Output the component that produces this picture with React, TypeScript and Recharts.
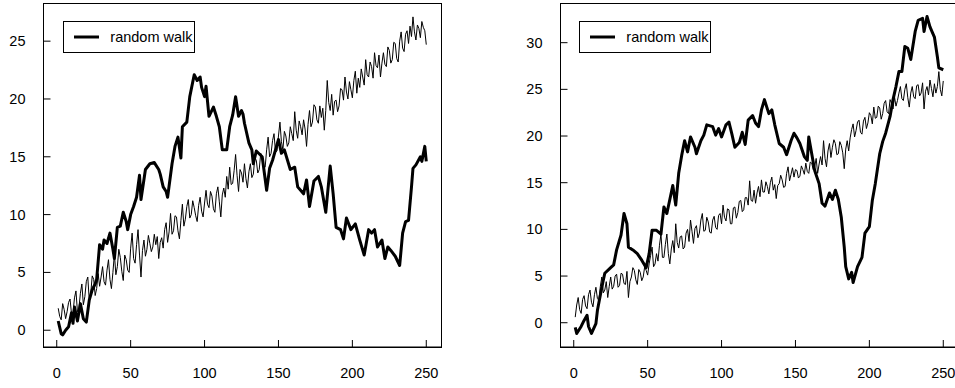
import { LineChart, Line, XAxis, YAxis, Legend } from 'recharts';

// the noisy trend lines have one value per step
const trendT = Array.from({ length: 250 }, (_, i) => i + 1);

// left panel
const trendLeft = [
    1.9, 1.2, 0.9, 2.3, 1.8, 1.0, 1.6, 2.4, 2.7, 1.4,
    1.5, 2.8, 3.4, 1.6, 1.9, 3.2, 4.0, 2.2, 2.9, 4.2,
    4.6, 2.6, 3.2, 4.7, 4.4, 3.0, 3.6, 4.9, 3.8, 4.6,
    5.5, 4.2, 3.9, 5.2, 6.1, 4.4, 3.6, 5.0, 6.6, 4.8,
    5.5, 7.0, 6.3, 5.1, 4.3, 6.5, 6.1, 5.2, 5.0, 7.1,
    8.4, 6.2, 5.8, 7.4, 8.7, 6.5, 4.6, 6.9, 7.8, 6.4,
    7.0, 8.2, 7.5, 6.8, 7.2, 8.3, 7.4, 8.1, 6.2, 7.6,
    8.0, 7.1, 8.7, 9.3, 7.6, 8.5, 10.1, 8.3, 8.6, 9.9,
    9.8, 8.6, 7.9, 9.5, 10.9, 9.0, 9.6, 10.7, 11.3, 9.7,
    10.0, 11.2, 10.6, 9.9, 9.4, 10.8, 11.5, 10.3, 9.8, 11.0,
    12.1, 10.9, 10.6, 12.0, 11.6, 10.5, 10.2, 11.8, 12.4, 11.1,
    9.8, 11.7, 12.3, 11.5, 13.3, 12.2, 14.1, 12.6, 12.7, 13.8,
    15.2, 13.4, 12.0, 13.9, 13.6, 12.8, 14.4, 13.1, 12.3, 13.7,
    14.4, 13.2, 13.5, 14.9, 14.7, 13.6, 13.9, 15.3, 15.0, 14.0,
    14.1, 15.6, 16.7, 15.0, 15.3, 16.4, 17.0, 15.4, 15.5, 16.8,
    18.0, 16.3, 15.6, 17.2, 16.8, 15.9, 16.2, 17.6, 17.0, 16.4,
    18.9, 17.3, 16.6, 18.1, 17.6, 16.9, 18.2, 17.4, 15.9, 17.8,
    19.0, 17.6, 18.0, 19.5, 19.3, 18.2, 17.9, 19.4, 18.4, 19.2,
    17.3, 19.0, 21.6, 19.7, 19.0, 20.4, 18.6, 19.8, 19.9, 18.9,
    19.4, 20.9, 20.8, 19.9, 21.9, 20.6, 20.0, 21.5, 20.8, 20.1,
    21.6, 22.4, 20.5, 21.8, 21.0, 22.6, 21.9, 21.2, 23.4, 22.1,
    21.9, 23.2, 22.8, 21.8, 24.0, 22.9, 22.7, 23.8, 21.9, 23.1,
    24.0, 23.0, 22.8, 24.5, 24.2, 23.1, 23.4, 24.9, 24.8, 23.5,
    23.2, 25.0, 25.8, 24.4, 24.1, 25.6, 25.9, 24.8, 26.3, 25.4,
    27.1, 25.8, 25.1, 26.4, 26.1, 25.3, 26.7, 26.2, 25.9, 24.7,
];

const walkLeftT = [
    1, 3, 4, 6, 8, 10, 11, 12, 14, 16, 18, 20, 22, 24, 26, 27, 29, 31, 32, 34,
    36, 38, 39, 41, 43, 45, 47, 48, 50, 52, 54, 56, 57, 60, 63, 66, 69, 70, 72, 74,
    75, 78, 80, 82, 84, 85, 88, 90, 93, 95, 97, 98, 100, 101, 103, 106, 108, 110, 112, 115,
    117, 119, 121, 123, 125, 126, 127, 130, 132, 133, 135, 139, 142, 144, 146, 150, 152, 154, 158, 161,
    163, 167, 169, 171, 174, 177, 179, 182, 185, 187, 189, 192, 194, 196, 199, 202, 205, 208, 211, 213,
    215, 217, 220, 222, 224, 226, 229, 232, 234, 236, 238, 240, 241, 243, 246, 247, 249, 250,
];
const walkLeft = [
    0.8, -0.3, -0.4, 0.0, 0.3, 1.5, 0.6, 2.0, 0.8, 2.3, 1.0, 0.7, 2.6, 3.5, 4.0, 4.4, 7.4, 7.0, 7.8, 7.5,
    8.4, 7.0, 6.2, 8.9, 9.0, 10.2, 9.4, 8.7, 10.0, 10.7, 11.5, 13.4, 11.3, 13.9, 14.4, 14.5, 13.9, 13.5, 12.4, 12.0,
    11.5, 14.4, 15.9, 16.7, 14.9, 17.6, 18.0, 20.2, 22.1, 21.6, 21.9, 21.0, 20.2, 21.1, 18.5, 19.3, 18.5, 17.6, 15.6, 15.6,
    17.6, 18.6, 20.2, 18.5, 19.0, 18.7, 17.9, 16.2, 15.6, 14.4, 15.5, 15.0, 12.1, 14.0, 14.7, 16.5, 15.3, 15.6, 13.9, 14.1,
    12.4, 11.8, 13.0, 10.7, 12.9, 13.3, 12.4, 10.2, 14.2, 11.8, 8.9, 8.7, 7.9, 9.7, 8.7, 9.2, 7.8, 6.5, 8.7, 8.4,
    8.7, 7.2, 7.8, 6.2, 7.2, 6.9, 6.4, 5.6, 8.4, 9.4, 9.5, 12.4, 14.0, 14.3, 15.0, 14.6, 15.9, 14.6,
];

// right panel
const trendRight = [
    0.6, 1.9, 2.7, 1.4, 1.0, 2.5, 2.9, 1.8, 1.5, 3.0,
    3.5, 2.2, 1.7, 3.0, 3.8, 2.6, 2.4, 3.9, 4.9, 3.2,
    3.5, 4.4, 2.7, 3.9, 4.9, 3.6, 3.9, 5.0, 5.2, 3.8,
    4.0, 5.3, 5.2, 4.2, 4.1, 5.5, 2.7, 4.4, 4.9, 5.9,
    5.6, 4.6, 4.1, 5.7, 5.4, 4.5, 4.9, 6.0, 5.6, 5.1,
    6.3, 7.2, 8.1, 6.0, 6.3, 7.4, 6.6, 8.3, 9.5, 7.0,
    7.0, 8.4, 9.5, 7.4, 6.3, 7.9, 8.8, 7.5, 10.6, 8.6,
    8.0, 9.2, 9.3, 7.9, 8.1, 9.6, 10.0, 8.7, 11.0, 9.8,
    8.5, 10.1, 10.4, 9.1, 9.6, 11.0, 11.7, 9.8, 9.9, 11.3,
    10.8, 9.7, 9.6, 11.0, 11.4, 10.2, 10.0, 11.5, 11.7, 10.6,
    12.6, 11.3, 10.9, 12.2, 12.1, 10.6, 10.6, 12.3, 12.4, 11.2,
    11.8, 13.0, 13.1, 11.9, 12.1, 13.4, 13.4, 12.6, 15.2, 13.1,
    13.0, 14.2, 12.8, 13.9, 14.6, 13.5, 15.3, 14.0, 14.0, 15.1,
    14.6, 13.8, 15.0, 15.6, 14.2, 14.8, 13.3, 14.7, 14.9, 15.8,
    15.3, 14.5, 14.6, 16.0, 16.7, 15.2, 15.9, 16.6, 15.6, 16.4,
    16.3, 15.5, 15.7, 16.8, 16.4, 15.9, 17.1, 16.2, 16.0, 17.2,
    17.1, 16.4, 16.7, 17.6, 16.0, 17.0, 17.8, 16.9, 19.5, 17.6,
    16.7, 18.4, 19.2, 17.7, 18.8, 19.6, 19.2, 18.0, 18.1, 19.4,
    19.0, 18.2, 16.5, 18.6, 19.5, 18.4, 19.8, 20.7, 21.3, 19.9,
    20.6, 21.5, 21.7, 20.4, 20.2, 21.6, 22.0, 20.8, 21.4, 22.5,
    22.2, 21.3, 23.1, 21.9, 22.0, 23.2, 23.0, 21.8, 22.4, 23.5,
    23.8, 22.6, 22.4, 23.9, 23.5, 22.9, 24.2, 23.2, 23.8, 24.6,
    25.3, 24.0, 23.8, 25.0, 25.6, 24.1, 23.1, 24.6, 25.3, 24.2,
    24.0, 25.4, 25.5, 24.3, 24.6, 25.7, 22.9, 24.8, 25.3, 24.4,
    26.0, 25.1, 24.2, 25.6, 24.6, 25.3, 26.9, 25.0, 24.3, 25.9,
];

const walkRightT = [
    1, 2, 5, 7, 9, 10, 12, 15, 16, 19, 21, 25, 27, 29, 32, 34, 36, 37, 40, 43,
    46, 49, 51, 53, 56, 59, 61, 63, 67, 69, 71, 73, 75, 77, 79, 82, 83, 86, 88, 90,
    94, 96, 98, 100, 103, 105, 107, 109, 112, 114, 116, 118, 121, 123, 125, 127, 129, 132, 134, 136,
    139, 142, 144, 147, 149, 151, 153, 156, 158, 159, 161, 163, 166, 168, 170, 173, 175, 177, 179, 181,
    183, 184, 186, 188, 189, 192, 195, 197, 200, 202, 204, 207, 209, 211, 214, 216, 218, 220, 222, 224,
    226, 228, 231, 233, 236, 237, 239, 241, 244, 246, 247, 250,
];
const walkRight = [
    -0.5, -1.15, -0.4, 0.25, 0.8, -0.4, -1.15, -0.1, 1.3, 3.8, 5.3, 5.9, 6.2, 7.8, 9.4, 11.7, 10.6, 8.1, 7.8, 7.4,
    6.7, 5.9, 7.4, 9.9, 9.9, 9.5, 12.4, 11.7, 14.7, 12.6, 16.0, 17.9, 19.5, 18.3, 19.9, 18.8, 18.1, 19.5, 20.1, 21.2,
    21.0, 20.1, 20.8, 19.9, 21.2, 21.5, 20.2, 18.8, 19.3, 20.4, 19.1, 21.7, 22.2, 21.4, 21.0, 22.8, 23.9, 22.4, 22.8, 21.2,
    19.2, 18.8, 18.0, 19.5, 20.3, 19.8, 19.2, 17.8, 17.4, 19.9, 18.1, 16.3, 14.9, 12.8, 12.5, 13.9, 13.2, 14.2, 13.2, 11.3,
    8.1, 6.0, 4.7, 5.4, 4.3, 6.0, 7.0, 9.6, 10.3, 13.1, 14.9, 18.1, 19.4, 20.3, 22.1, 23.9, 25.3, 26.9, 26.9, 29.6,
    29.4, 28.2, 31.2, 32.4, 32.6, 31.2, 32.8, 31.7, 30.6, 28.5, 27.3, 27.1,
];

const xTicks = [0, 50, 100, 150, 200, 250];
const yTicksLeft = [0, 5, 10, 15, 20, 25];
const yTicksRight = [0, 5, 10, 15, 20, 25, 30];

const xDomain: [number, number] = [-8.96, 259.96];
const FONT = '"Liberation Sans", Arial, sans-serif';
const FONT_SIZE = 14.5;
const CHART_H = 388;
const TOP = 3;
const X_AXIS_H = 41;

const toPoints = (ts: number[], vs: number[]) => ts.map((t, i) => ({ t, v: vs[i] }));

// ticks point inward, labels sit outside
const YTick = (props: any) => {
    const { x, y, payload } = props;
    return (
        <g>
            <line x1={x} x2={x + 7} y1={y} y2={y} stroke="#000" />
            <text x={x - 18} y={y + 5} textAnchor="end" fontSize={FONT_SIZE} fontFamily={FONT} fill="#000">
                {payload.value}
            </text>
        </g>
    );
};

const XTick = (props: any) => {
    const { x, y, payload } = props;
    return (
        <g>
            <line x1={x} x2={x} y1={y} y2={y - 7} stroke="#000" />
            <text x={x} y={y + 31} textAnchor="middle" fontSize={FONT_SIZE} fontFamily={FONT} fill="#000">
                {payload.value}
            </text>
        </g>
    );
};

const LegendBox = (props: any) => {
    const item = (props.payload || [])[0];
    return (
        <div
            style={{
                boxSizing: 'border-box',
                width: 132,
                height: 32,
                border: '1px solid #000',
                background: '#fff',
                display: 'flex',
                alignItems: 'center',
                fontFamily: FONT,
                fontSize: FONT_SIZE,
                color: '#000',
            }}
        >
            <svg width={36} height={10}>
                <line x1={10} x2={35} y1={5} y2={5} stroke="#000" strokeWidth={3} />
            </svg>
            <span style={{ marginLeft: 10 }}>{item ? item.value : 'random walk'}</span>
        </div>
    );
};

interface PanelProps {
    walkT: number[];
    walk: number[];
    trend: number[];
    yDomain: [number, number];
    yTicks: number[];
    axisWidth: number;
    width: number;
    rightMargin: number;
    legendLeft: number;
}

function Panel({ walkT, walk, trend, yDomain, yTicks, axisWidth, width, rightMargin, legendLeft }: PanelProps) {
    const walkData = toPoints(walkT, walk);
    const trendData = toPoints(trendT, trend);
    const plotW = width - axisWidth - rightMargin;
    const plotH = CHART_H - TOP - X_AXIS_H;
    return (
        <div style={{ position: 'relative', width, height: CHART_H }}>
            <LineChart width={width} height={CHART_H} margin={{ top: TOP, right: rightMargin, bottom: 0, left: 0 }}>
                <XAxis
                    dataKey="t"
                    type="number"
                    domain={xDomain}
                    ticks={xTicks}
                    allowDataOverflow
                    height={X_AXIS_H}
                    tickSize={0}
                    tickMargin={0}
                    tickLine={false}
                    axisLine={{ stroke: '#000' }}
                    tick={<XTick />}
                />
                <YAxis
                    dataKey="v"
                    type="number"
                    domain={yDomain}
                    ticks={yTicks}
                    allowDataOverflow
                    width={axisWidth}
                    tickSize={0}
                    tickMargin={0}
                    tickLine={false}
                    axisLine={{ stroke: '#000' }}
                    tick={<YTick />}
                />
                <Line
                    data={trendData}
                    dataKey="v"
                    name="trend"
                    type="linear"
                    stroke="#000"
                    strokeWidth={1}
                    dot={false}
                    legendType="none"
                    isAnimationActive={false}
                />
                <Line
                    data={walkData}
                    dataKey="v"
                    name="random walk"
                    type="linear"
                    stroke="#000"
                    strokeWidth={3}
                    strokeLinejoin="round"
                    dot={false}
                    isAnimationActive={false}
                />
                <Legend
                    layout="vertical"
                    align="center"
                    verticalAlign="middle"
                    wrapperStyle={{ left: legendLeft, top: 20.5, width: 'auto' }}
                    content={<LegendBox />}
                />
            </LineChart>
            {/* box around the plot area, laid over the chart */}
            <div
                style={{
                    position: 'absolute',
                    left: axisWidth - 0.5,
                    top: TOP - 0.5,
                    width: plotW + 1,
                    height: plotH + 1,
                    boxSizing: 'border-box',
                    border: '1px solid #000',
                    zIndex: 10,
                    pointerEvents: 'none',
                }}
            />
        </div>
    );
}

export default function App() {
    return (
        <div style={{ position: 'absolute', left: 0, top: 0, width: 955, height: 388, background: '#fff' }}>
            <div style={{ position: 'absolute', left: 0, top: 0, width: 480, height: 388 }}>
                <Panel
                    walkT={walkLeftT}
                    walk={walkLeft}
                    trend={trendLeft}
                    yDomain={[-1.45, 28.3]}
                    yTicks={yTicksLeft}
                    axisWidth={43.5}
                    width={480}
                    rightMargin={39}
                    legendLeft={63.3}
                />
            </div>
            <div style={{ position: 'absolute', left: 480, top: 0, width: 475, height: 388, overflow: 'hidden' }}>
                <Panel
                    walkT={walkRightT}
                    walk={walkRight}
                    trend={trendRight}
                    yDomain={[-2.6, 34.25]}
                    yTicks={yTicksRight}
                    axisWidth={80.5}
                    width={500}
                    rightMargin={22}
                    legendLeft={99.3}
                />
            </div>
        </div>
    );
}
